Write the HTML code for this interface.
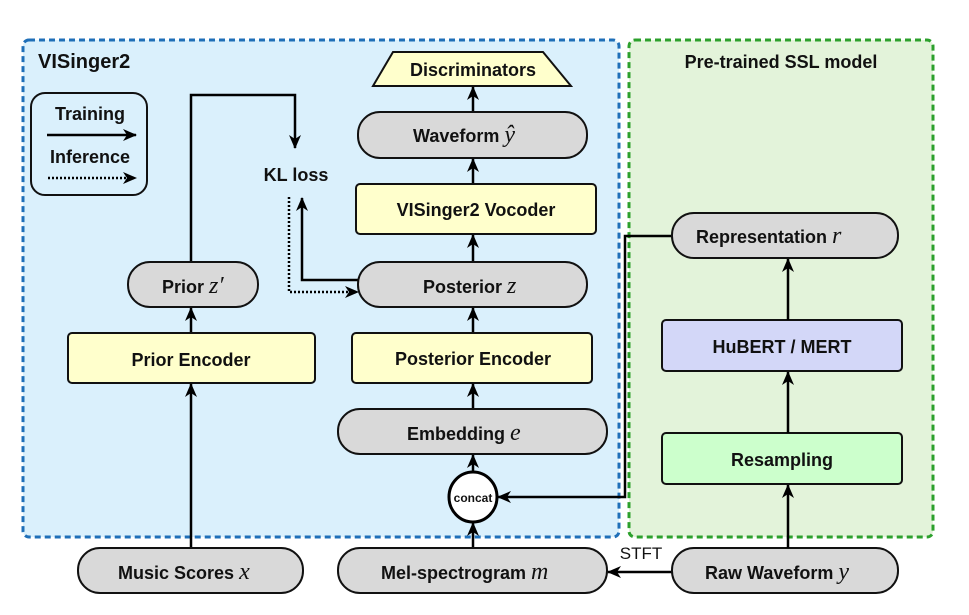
<!DOCTYPE html>
<html><head><meta charset="utf-8"><style>
body{margin:0;background:#fff}
svg{display:block}
text{font-family:"Liberation Sans",sans-serif;font-weight:bold;font-size:18px;fill:#111}
.m{font-family:"Liberation Serif",serif;font-style:italic;font-weight:normal;font-size:24px}
.n{stroke:#111;stroke-width:2}
.l{stroke:#000;stroke-width:2.5;fill:none}
</style></head><body>
<svg width="969" height="615" viewBox="0 0 969 615" xmlns="http://www.w3.org/2000/svg">
<defs><marker id="a" markerWidth="14" markerHeight="12" refX="13" refY="6" orient="auto" markerUnits="userSpaceOnUse"><path d="M0,0 L14,6 L0,12 L4,6 Z" fill="#000"/></marker></defs>
<rect x="23" y="40" width="596" height="497" rx="6" fill="#daf0fc" stroke="#1f6fb8" stroke-width="3" stroke-dasharray="6,4"/>
<rect x="629" y="40" width="304" height="497" rx="6" fill="#e3f3da" stroke="#2ca02c" stroke-width="3" stroke-dasharray="6,4"/>
<text x="38" y="68" style="font-size:20px">VISinger2</text>
<text x="781" y="68" text-anchor="middle" style="font-size:18px">Pre-trained SSL model</text>
<rect x="31" y="93" width="116" height="102" rx="14" fill="#daf0fc" class="n" stroke-width="2.5"/>
<text x="90" y="120" text-anchor="middle">Training</text>
<line x1="47" y1="135" x2="136" y2="135" class="l" marker-end="url(#a)"/>
<text x="90" y="163" text-anchor="middle">Inference</text>
<line x1="48" y1="178" x2="136" y2="178" class="l" stroke-dasharray="2,2" marker-end="url(#a)"/>
<path d="M191,262 V95 H295 V148" class="l" marker-end="url(#a)"/>
<text x="296" y="181" text-anchor="middle">KL loss</text>
<path d="M359,280 H302 V198" class="l" marker-end="url(#a)"/>
<path d="M289,197 V292 H358" class="l" stroke-dasharray="2,2" marker-end="url(#a)"/>
<rect x="128" y="262" width="130" height="45" rx="22" fill="#d9d9d9" class="n"/>
<text x="162" y="293">Prior <tspan class="m">z′</tspan></text>
<line x1="191" y1="333" x2="191" y2="308" class="l" marker-end="url(#a)"/>
<rect x="68" y="333" width="247" height="50" rx="4" fill="#ffffcc" class="n"/>
<text x="191" y="366" text-anchor="middle">Prior Encoder</text>
<line x1="191" y1="548" x2="191" y2="384" class="l" marker-end="url(#a)"/>
<rect x="78" y="548" width="225" height="45" rx="22" fill="#d9d9d9" class="n"/>
<text x="118" y="579">Music Scores <tspan class="m">x</tspan></text>
<polygon points="393,52 543,52 571,86 373,86" fill="#ffffcc" class="n"/>
<text x="473" y="76" text-anchor="middle">Discriminators</text>
<line x1="473" y1="112" x2="473" y2="87" class="l" marker-end="url(#a)"/>
<rect x="358" y="112" width="229" height="46" rx="22" fill="#d9d9d9" class="n"/>
<text x="413" y="142">Waveform <tspan class="m">ŷ</tspan></text>
<line x1="473" y1="184" x2="473" y2="159" class="l" marker-end="url(#a)"/>
<rect x="356" y="184" width="240" height="50" rx="4" fill="#ffffcc" class="n"/>
<text x="476" y="216" text-anchor="middle">VISinger2 Vocoder</text>
<line x1="473" y1="262" x2="473" y2="235" class="l" marker-end="url(#a)"/>
<rect x="358" y="262" width="229" height="45" rx="22" fill="#d9d9d9" class="n"/>
<text x="423" y="293">Posterior <tspan class="m">z</tspan></text>
<line x1="473" y1="333" x2="473" y2="308" class="l" marker-end="url(#a)"/>
<rect x="352" y="333" width="240" height="50" rx="4" fill="#ffffcc" class="n"/>
<text x="473" y="365" text-anchor="middle">Posterior Encoder</text>
<line x1="473" y1="409" x2="473" y2="384" class="l" marker-end="url(#a)"/>
<rect x="338" y="409" width="269" height="45" rx="22" fill="#d9d9d9" class="n"/>
<text x="407" y="440">Embedding <tspan class="m">e</tspan></text>
<line x1="473" y1="473" x2="473" y2="455" class="l" marker-end="url(#a)"/>
<path d="M672,236 H625 V497 H498" class="l" marker-end="url(#a)"/>
<ellipse cx="473" cy="497" rx="24" ry="25" fill="#fff" stroke="#000" stroke-width="3"/>
<text x="473" y="502" text-anchor="middle" style="font-size:12px">concat</text>
<line x1="473" y1="548" x2="473" y2="523" class="l" marker-end="url(#a)"/>
<rect x="338" y="548" width="269" height="45" rx="22" fill="#d9d9d9" class="n"/>
<text x="381" y="579">Mel-spectrogram <tspan class="m">m</tspan></text>
<line x1="672" y1="572" x2="608" y2="572" class="l" marker-end="url(#a)"/>
<text x="641" y="559" text-anchor="middle" style="font-weight:normal;font-size:17px">STFT</text>
<rect x="672" y="548" width="226" height="45" rx="22" fill="#d9d9d9" class="n"/>
<text x="705" y="579">Raw Waveform <tspan class="m">y</tspan></text>
<line x1="788" y1="548" x2="788" y2="485" class="l" marker-end="url(#a)"/>
<rect x="662" y="433" width="240" height="51" rx="4" fill="#ccffcc" class="n"/>
<text x="782" y="466" text-anchor="middle">Resampling</text>
<line x1="788" y1="433" x2="788" y2="372" class="l" marker-end="url(#a)"/>
<rect x="662" y="320" width="240" height="51" rx="4" fill="#d3d7f8" class="n"/>
<text x="782" y="353" text-anchor="middle">HuBERT / MERT</text>
<line x1="788" y1="320" x2="788" y2="259" class="l" marker-end="url(#a)"/>
<rect x="672" y="213" width="226" height="45" rx="22" fill="#d9d9d9" class="n"/>
<text x="696" y="243">Representation <tspan class="m">r</tspan></text>
</svg>
</body></html>
